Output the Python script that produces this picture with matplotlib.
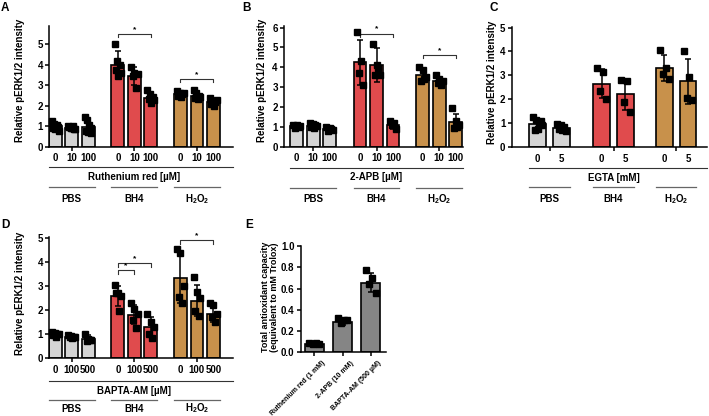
import numpy as np
import matplotlib
matplotlib.use("Agg")
import matplotlib.pyplot as plt
from matplotlib.transforms import blended_transform_factory, ScaledTranslation

plt.rcParams['font.family'] = ['Liberation Sans', 'DejaVu Sans']
plt.rcParams['font.weight'] = 'bold'
plt.rcParams['mathtext.fontset'] = 'custom'
plt.rcParams['mathtext.rm'] = 'Liberation Sans'
plt.rcParams['mathtext.bf'] = 'Liberation Sans:bold'

# ---- data ----
groups = ['PBS', 'BH4', r'$\mathbf{H_2O_2}$']
group_colors = ['#d4d4d4', '#e04b4d', '#c8914b']

# A: Ruthenium red
A_doses = ['0', '10', '100']
A_means = [1.0, 0.93, 0.97, 4.0, 3.45, 2.4, 2.55, 2.5, 2.2]
A_errs = [0.15, 0.08, 0.21, 0.65, 0.45, 0.15, 0.1, 0.12, 0.12]
A_points = [
    [1.25, 1.1, 1.0, 0.95, 0.9, 0.85, 1.05, 0.8],
    [1.0, 0.95, 0.9, 0.85, 0.95, 0.9, 1.0, 0.88],
    [1.45, 1.3, 1.05, 0.9, 0.8, 0.75, 0.85, 0.7],
    [5.0, 4.2, 4.0, 3.75, 3.45, 3.6],
    [3.87, 3.6, 3.55, 3.45, 2.85],
    [2.75, 2.55, 2.45, 2.35, 2.15, 2.3],
    [2.7, 2.6, 2.55, 2.5, 2.45, 2.6],
    [2.75, 2.6, 2.5, 2.4, 2.35, 2.45],
    [2.4, 2.25, 2.2, 2.1, 2.0, 2.3],
]

# B: 2-APB
B_doses = ['0', '10', '100']
B_means = [1.05, 1.08, 0.9, 4.25, 4.1, 1.1, 3.6, 3.3, 1.25]
B_errs = [0.07, 0.1, 0.08, 1.15, 0.85, 0.18, 0.3, 0.15, 0.42]
B_points = [
    [1.1, 1.05, 1.0, 0.95, 1.1, 1.05],
    [1.2, 1.15, 1.1, 1.0, 0.95, 1.05],
    [1.0, 0.95, 0.85, 0.8, 0.9],
    [5.8, 4.3, 3.7, 3.1],
    [5.2, 4.1, 3.6, 3.6, 3.95],
    [1.3, 1.2, 1.1, 0.9],
    [4.0, 3.85, 3.5, 3.3, 3.4],
    [3.6, 3.4, 3.3, 3.2, 3.1],
    [1.95, 1.3, 1.1, 0.95, 1.0],
]

# C: EGTA
C_doses = ['0', '5']
C_means = [0.95, 0.8, 2.65, 2.2, 3.3, 2.75]
C_errs = [0.2, 0.15, 0.6, 0.65, 0.55, 0.95]
C_points = [
    [1.25, 1.15, 1.0, 0.9, 0.7, 0.75, 1.1],
    [0.95, 0.9, 0.85, 0.75, 0.7, 0.65],
    [3.3, 3.15, 2.35, 2.0],
    [2.8, 2.75, 1.9, 1.45],
    [4.05, 3.3, 3.05, 2.85],
    [4.0, 2.95, 2.05, 1.95],
]

# D: BAPTA-AM
D_doses = ['0', '100', '500']
D_means = [1.0, 0.9, 0.8, 2.6, 1.82, 1.3, 3.35, 2.4, 1.85]
D_errs = [0.07, 0.06, 0.15, 0.42, 0.4, 0.42, 1.05, 0.65, 0.35]
D_points = [
    [1.1, 1.05, 1.0, 0.95, 0.9, 1.0],
    [0.95, 0.92, 0.9, 0.88, 0.85, 0.9],
    [1.0, 0.8, 0.75, 0.7, 0.75],
    [3.05, 2.7, 2.6, 2.7, 1.95],
    [2.3, 2.05, 1.85, 1.6, 1.25],
    [1.85, 1.5, 1.3, 1.0, 0.85],
    [4.55, 4.4, 3.0, 2.55, 2.3],
    [3.4, 2.75, 2.5, 1.95, 1.75],
    [2.3, 2.2, 1.85, 1.7, 1.5],
]

# E: total antioxidant capacity
E_labels = ['Ruthenium red (1 mM)', '2-APB (10 mM)', 'BAPTA-AM (500 µM)']
E_means = [0.078, 0.288, 0.655]
E_errs = [0.01, 0.03, 0.09]
E_points = [[0.09, 0.085, 0.075, 0.08], [0.32, 0.30, 0.28, 0.305], [0.77, 0.70, 0.64, 0.555]]

W, H = 709, 416
fig = plt.figure(figsize=(W / 100, H / 100), dpi=100)


def axes_px(left, right, top, bottom):
    return fig.add_axes([left / W, 1 - bottom / H, (right - left) / W, (bottom - top) / H])


def style(ax, ylim, yticks, fmt='{:g}'):
    ax.set_ylim(*ylim)
    ax.set_yticks(yticks)
    ax.set_yticklabels([fmt.format(t) for t in yticks], fontsize=7, fontweight='bold')
    for s in ['top', 'right']:
        ax.spines[s].set_visible(False)
    for s in ['left', 'bottom']:
        ax.spines[s].set_linewidth(1.1)
    ax.tick_params(axis='y', length=3, width=1.1, pad=1.5)
    ax.tick_params(axis='x', length=3, width=1.1)
    ax.patch.set_alpha(0)


def draw_bars(ax, pos, means, errs, points, colors, width):
    ax.bar(pos, means, width=width, color=colors, edgecolor='black', linewidth=1.2, zorder=1)
    ax.errorbar(pos, means, yerr=errs, fmt='none', ecolor='black', elinewidth=1.1,
                capsize=2.3, capthick=1.1, zorder=3)
    for x, pts in zip(pos, points):
        n = len(pts)
        offs = np.linspace(-0.2, 0.2, n) * width / 0.77
        # zig-zag the spread so the dots don't form a diagonal
        order = list(range(0, n, 2)) + list(range(1, n, 2))
        offs = offs[order]
        ax.plot(x + offs, pts, 's', color='black', ms=4, zorder=4, clip_on=False)


def bracket(ax, x1, x2, y, drop):
    ax.plot([x1, x1, x2, x2], [y - drop, y, y, y - drop], color='#333333', lw=0.8, clip_on=False)
    ax.text((x1 + x2) / 2, y + drop * 0.3, '*', ha='center', va='bottom', fontsize=6)


def under_axis(ax, pos, ngrp, doses, treatment, width, xright, ys):
    tr = blended_transform_factory(ax.transData, fig.transFigure)
    y_tick, y_long, y_treat, y_grp, y_lab = [1 - v / H for v in ys]
    nd = len(doses)
    for i, x in enumerate(pos):
        ax.text(x, y_tick, doses[i % nd], transform=tr, ha='center', va='center',
                fontsize=7, fontweight='bold')
    left = pos[0] - width / 2
    ax.plot([left, xright], [y_long, y_long], transform=tr, color='#333333', lw=0.8, clip_on=False)
    centers = []
    for g in range(ngrp):
        p = pos[g * nd:(g + 1) * nd]
        c = (p[0] + p[-1]) / 2
        centers.append(c)
        ax.plot([p[0] - width / 2, p[-1] + width / 2], [y_grp, y_grp], transform=tr,
                color='#666666', lw=0.9, clip_on=False)
        ax.text(c, y_lab, groups[g], transform=tr, ha='center', va='center',
                fontsize=7, fontweight='bold')
    ax.text(centers[1], y_treat, treatment, transform=tr, ha='center', va='center',
            fontsize=7, fontweight='bold')
    ax.set_xticks(centers)
    ax.set_xticklabels([])


colors9 = [c for c in group_colors for _ in range(3)]
colors6 = [c for c in group_colors for _ in range(2)]

# ---- A ----
posA = np.array([0, 1, 2, 3.8, 4.8, 5.8, 7.6, 8.6, 9.6])
axA = axes_px(49.3, 233, 25.5, 147)
draw_bars(axA, posA, A_means, A_errs, A_points, colors9, 0.77)
axA.set_xlim(-0.36, 10.79)
style(axA, (0, 5.9), range(0, 6))
bracket(axA, posA[3], posA[5], 5.5, 0.15)
bracket(axA, posA[6], posA[8], 3.3, 0.15)
under_axis(axA, posA, 3, A_doses, 'Ruthenium red [µM]', 0.77, 10.79, (158, 167, 177.3, 187, 198.7))

# ---- B ----
posB = np.array([0, 1, 2, 3.84, 4.84, 5.84, 7.64, 8.64, 9.64])
axB = axes_px(284, 463, 25.6, 147)
draw_bars(axB, posB, B_means, B_errs, B_points, colors9, 0.77)
axB.set_xlim(-0.77, 10.08)
style(axB, (0, 6.1), range(0, 7))
bracket(axB, posB[3], posB[5], 5.7, 0.15)
bracket(axB, posB[6], posB[8], 4.62, 0.15)
under_axis(axB, posB, 3, B_doses, '2-APB [µM]', 0.77, 10.08, (158, 167.5, 177.5, 187.5, 199))

# ---- C ----
posC = np.array([0, 1, 2.7, 3.7, 5.34, 6.34])
axC = axes_px(511.7, 706.7, 26.8, 147)
draw_bars(axC, posC, C_means, C_errs, C_points, colors6, 0.7)
axC.set_xlim(-1.1, 7.13)
style(axC, (0, 5.03), range(0, 6))
under_axis(axC, posC, 3, C_doses, 'EGTA [mM]', 0.7, 7.13, (159, 168, 178, 187, 199))

# ---- D ----
axD = axes_px(49.3, 233, 236.6, 358.3)
draw_bars(axD, posA, D_means, D_errs, D_points, colors9, 0.77)
axD.set_xlim(-0.36, 10.79)
style(axD, (0, 5.07), range(0, 6))
bracket(axD, posA[3], posA[4], 3.68, 0.15)
bracket(axD, posA[3], posA[5], 3.95, 0.15)
bracket(axD, posA[6], posA[8], 4.93, 0.15)
under_axis(axD, posA, 3, D_doses, 'BAPTA-AM [µM]', 0.77, 10.79, (370, 381.2, 390.5, 399.5, 408.5))

# ---- E ----
posE = np.arange(3)
axE = axes_px(300.7, 386, 246, 352.3)
draw_bars(axE, posE, E_means, E_errs, E_points, ['#858585'] * 3, 0.68)
axE.set_xlim(-0.49, 2.55)
style(axE, (0, 1.0), np.arange(0, 1.01, 0.2), '{:.1f}')
axE.set_xticks(posE)
axE.set_xticklabels(E_labels, rotation=45, ha='right', va='center', rotation_mode='anchor',
                    fontsize=5, fontweight='bold')
axE.tick_params(axis='x', pad=4)
shift = ScaledTranslation(10 / 100, 0, fig.dpi_scale_trans)
for t in axE.get_xticklabels():
    t.set_transform(t.get_transform() + shift)

# ---- y labels ----
ylab = 'Relative pERK1/2 intensity'
for x, y in [(20, 80), (262, 80), (492, 82), (20, 293)]:
    fig.text(x / W, 1 - y / H, ylab, rotation=90, ha='center', va='center',
             fontsize=7, fontweight='bold')
fig.text(270 / W, 1 - 297 / H, 'Total antioxidant capacity\n(equivalent to mM Trolox)',
         rotation=90, ha='center', va='center', fontsize=6.5, fontweight='bold',
         linespacing=1.1)

# ---- panel letters ----
for lab, x, y in [('A', 1, 2), ('B', 242, 2), ('C', 490, 2), ('D', 1, 219), ('E', 245, 219)]:
    fig.text(x / W, 1 - y / H, lab, ha='left', va='top', fontsize=8.5, fontweight='bold')

fig.savefig('out.png', dpi=100)
